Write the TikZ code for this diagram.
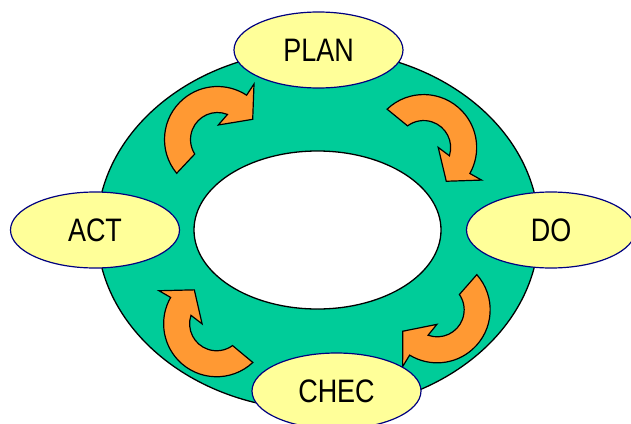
\documentclass[tikz,border=0pt]{standalone}
\usepackage{fontspec}
\usetikzlibrary{shapes.geometric}
\newfontfamily\cyclefont[FakeStretch=0.83]{Liberation Sans}
\definecolor{ring}{HTML}{00CC99}
\definecolor{stage}{HTML}{FFFF99}
\definecolor{turn}{HTML}{FF9933}
\definecolor{rim}{HTML}{000080}
% one curved arrow, drawn round its own centre
\newcommand{\turnarrow}[2]{%
  \draw[turnline,shift={#1},rotate=#2]
    ([shift={(9.5,1)}]140.4:53) arc[start angle=140.4,end angle=303.3,radius=53]
    -- (46,-54.5) -- (44.7,-19.2) -- (10.3,-13.5) -- ([shift={(9.5,1)}]291.7:27)
    arc[start angle=291.7,end angle=147.4,radius=27] -- cycle;}

\begin{document}
\begin{tikzpicture}[x=1pt,y=-1pt,
  stagebox/.style={ellipse,draw=rim,line width=1.2pt,fill=stage,minimum width=169pt,minimum height=76pt,inner sep=0pt,font=\cyclefont\fontsize{32.5}{36}\selectfont},
  turnline/.style={draw=black,line width=1.2pt,fill=turn,line join=miter}]
\useasboundingbox (0,0) rectangle (631,423);
\draw[line width=1.3pt,fill=ring] (318,230) ellipse [x radius=221,y radius=180];
\draw[line width=1.3pt,fill=white] (317.5,230) ellipse [x radius=123.5,y radius=79];
\turnarrow{(208,138.5)}{0}
\turnarrow{(424,138)}{-86}
\turnarrow{(446.7,310.5)}{-178}
\turnarrow{(216.2,333.3)}{93.5}
\node[stagebox] (plan) at (318.5,50) {PLAN};
\node[stagebox] (do) at (551,230) {DO};
\node[stagebox] (chec) at (336.5,391) {CHEC};
\node[stagebox] (act) at (95,230) {ACT};
\end{tikzpicture}
\end{document}
